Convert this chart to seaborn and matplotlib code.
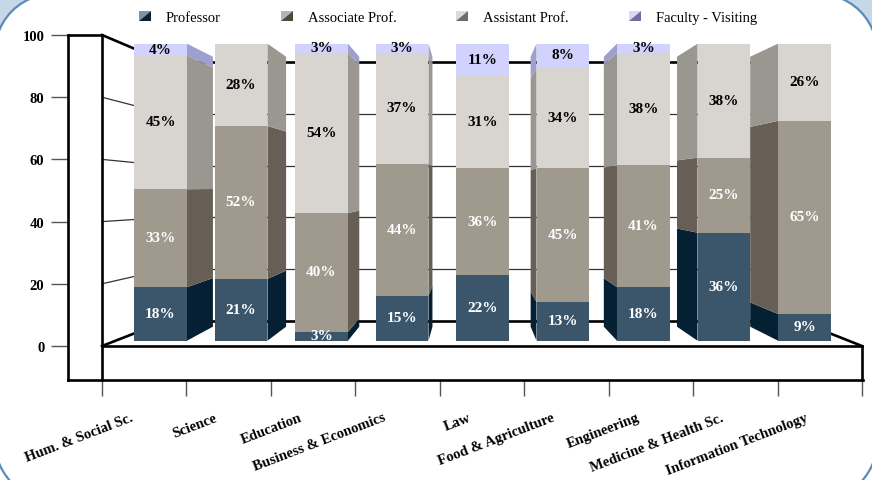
"""Faculty rank mix per college, drawn as a 3D-look 100% stacked bar chart."""

import matplotlib

matplotlib.use("Agg")

import matplotlib.pyplot as plt
import numpy as np
import seaborn as sns
from matplotlib.legend_handler import HandlerBase
from matplotlib.patches import FancyBboxPatch, Polygon, Rectangle

colleges = [
    "Hum. & Social Sc.",
    "Science",
    "Education",
    "Business & Economics",
    "Law",
    "Food & Agriculture",
    "Engineering",
    "Medicine & Health Sc.",
    "Information Technology",
]
ranks = ["Professor", "Associate Prof.", "Assistant Prof.", "Faculty - Visiting"]
professor = [18, 21, 3, 15, 22, 13, 18, 36, 9]
associate = [33, 52, 40, 44, 36, 45, 41, 25, 65]
assistant = [45, 28, 54, 37, 31, 34, 38, 38, 26]
visiting = [4, 0, 3, 3, 11, 8, 3, 0, 0]
y_ticks = [0, 20, 40, 60, 80, 100]

front_colors = ["#3b566b", "#a0998d", "#d8d5d0", "#d2d2ff"]
side_colors = ["#062033", "#675f55", "#9a9790", "#9f9fcf"]
swatch_light = ["#7f93a3", "#b9b4ab", "#dddbd7", "#d8d8f8"]
swatch_dark = ["#0a2233", "#4f483f", "#6f6c68", "#6f6f98"]
label_colors = ["white", "white", "black", "black"]

W, H = 872, 481
FONT = "Liberation Serif"


class SplitSwatch(HandlerBase):
    """Legend key split along its diagonal, light above and dark below."""

    def __init__(self, light, dark):
        super().__init__()
        self.light = light
        self.dark = dark

    def create_artists(self, legend, orig_handle, xdescent, ydescent, width, height, fontsize, trans):
        x0, y0 = -xdescent, -ydescent
        x1, y1 = x0 + width, y0 + height
        upper = Polygon([(x0, y0), (x0, y1), (x1, y1)], facecolor=self.light, edgecolor="none", transform=trans)
        lower = Polygon([(x0, y0), (x1, y0), (x1, y1)], facecolor=self.dark, edgecolor="none", transform=trans)
        return [upper, lower]


def to_back(x, y, center_x, center_y, depth):
    """Push a front-plane point back towards the vanishing point."""
    return center_x + depth * (x - center_x), center_y + depth * (y - center_y)


sns.set_theme(style="white")
plt.rcParams["font.family"] = [FONT, "DejaVu Serif"]

fig = plt.figure(figsize=(W / 100, H / 100), dpi=100, facecolor="white")

# rounded white card; only the top corners show blue outside it
card_ax = fig.add_axes([0, 0, 1, 1], zorder=0)
card_ax.set_xlim(0, W)
card_ax.set_ylim(H, 0)
card_ax.axis("off")
card_ax.add_patch(Rectangle((0, 0), W, 100, facecolor="#c6d7e7", edgecolor="none"))
card_ax.add_patch(
    FancyBboxPatch(
        (72, 72),
        W + 16 - 160,
        H + 23 - 160 + 8,
        boxstyle="round,pad=80",
        facecolor="white",
        edgecolor="#5a8ab8",
        linewidth=1.6,
    )
)

# the frame: its left and bottom spines are the outer box of the chart
frame_ax = fig.add_axes([68 / W, 1 - 381 / H, (863 - 68) / W, (381 - 36) / H], zorder=1)
frame_ax.patch.set_alpha(0)
frame_ax.set_xlim(-34 / 84.4, 9 + 1 / 84.4)
frame_ax.set_ylim(-34 / 3.11, 100)
for side in ["top", "right"]:
    frame_ax.spines[side].set_visible(False)
for side in ["left", "bottom"]:
    frame_ax.spines[side].set_linewidth(1.9)
    frame_ax.spines[side].set_color("black")

frame_ax.set_yticks(y_ticks)
frame_ax.tick_params(axis="y", length=12, width=1, color="#555555", pad=5, left=True)
frame_ax.set_yticklabels([str(t) for t in y_ticks], fontsize=10.5, fontweight="bold", color="black")
frame_ax.set_xticks(range(len(colleges) + 1))
frame_ax.set_xticklabels([])
frame_ax.tick_params(axis="x", which="major", length=11.5, width=1, color="#555555", bottom=True)
frame_ax.set_xticks(np.arange(len(colleges)) + 0.33, minor=True)
frame_ax.set_xticklabels(colleges, minor=True, rotation=21, ha="right", rotation_mode="anchor", fontsize=10.5, fontweight="bold", color="black")
frame_ax.tick_params(axis="x", which="minor", length=0, pad=22)

# walls of the chart box
wall_x, wall_y, wall_depth = 4.53, 48.0, 0.8327
n_slots = len(colleges)
back_left, back_top = to_back(0, 100, wall_x, wall_y, wall_depth)
back_right, back_floor = to_back(n_slots, 0, wall_x, wall_y, wall_depth)
heavy = dict(color="black", linewidth=1.9, solid_capstyle="projecting", clip_on=False)
light = dict(color="#333333", linewidth=0.9)
for tick in y_ticks[1:-1]:
    _, back_tick = to_back(0, tick, wall_x, wall_y, wall_depth)
    frame_ax.plot([0, back_left], [tick, back_tick], **light)
    frame_ax.plot([back_left, back_right], [back_tick, back_tick], **light)
x_min = frame_ax.get_xlim()[0]
frame_ax.plot([x_min, 0], [100, 100], **heavy)
frame_ax.plot([0, 0], [frame_ax.get_ylim()[0], 100], **heavy)
frame_ax.plot([0, n_slots], [0, 0], **heavy)
frame_ax.plot([n_slots, n_slots], [frame_ax.get_ylim()[0], 0], **heavy)
frame_ax.plot([0, back_left], [100, back_top], **heavy)
frame_ax.plot([0, back_left], [0, back_floor], **heavy)
frame_ax.plot([n_slots, back_right], [0, back_floor], **heavy)
frame_ax.plot([back_left, back_right], [back_top, back_top], **heavy)
frame_ax.plot([back_left, back_right], [back_floor, back_floor], **heavy)

# bars sit on their own plane, in front of the walls
bar_ax = fig.add_axes([0, 0, 1, 1], zorder=2)
bar_ax.patch.set_alpha(0)

series = np.array([professor, associate, assistant, visiting], dtype=float)
shares = series / series.sum(axis=0) * 100
bottoms = np.vstack([np.zeros(len(colleges)), np.cumsum(shares, axis=0)[:-1]])
bar_width = 0.658

for layer, color in enumerate(front_colors):
    sns.barplot(
        x=colleges,
        y=shares[layer],
        bottom=bottoms[layer],
        color=color,
        saturation=1,
        width=bar_width,
        errorbar=None,
        linewidth=0,
        order=colleges,
        ax=bar_ax,
        zorder=3,
    )

bar_ax.set_xlim(-160.5 / 80.5, (W - 160.5) / 80.5)
bar_ax.set_ylim((341.7 - H) / 2.97, 341.7 / 2.97)
bar_ax.axis("off")

# side faces, running from the front edge back to the vanishing point
bar_x, bar_y, bar_depth = 3.87, 51.85, 0.909
for slot in range(len(colleges)):
    left_edge = slot - bar_width / 2
    right_edge = slot + bar_width / 2
    if right_edge <= bar_x:
        edge = right_edge
    elif left_edge >= bar_x:
        edge = left_edge
    else:
        continue
    for layer in range(len(ranks)):
        if series[layer, slot] == 0:
            continue
        low = bottoms[layer, slot]
        high = low + shares[layer, slot]
        back_x, back_low = to_back(edge, low, bar_x, bar_y, bar_depth)
        _, back_high = to_back(edge, high, bar_x, bar_y, bar_depth)
        bar_ax.fill(
            [edge, back_x, back_x, edge],
            [low, back_low, back_high, high],
            color=side_colors[layer],
            linewidth=0,
            zorder=2,
        )

# value labels centred on each front face
for layer in range(len(ranks)):
    for slot in range(len(colleges)):
        if series[layer, slot] == 0:
            continue
        bar_ax.text(
            slot,
            bottoms[layer, slot] + shares[layer, slot] / 2 + 0.2,
            f"{series[layer, slot]:.0f}%",
            ha="center",
            va="center",
            fontsize=11,
            fontweight="bold",
            color=label_colors[layer],
            zorder=5,
        )

handles = [Polygon([(0, 0)], label=rank) for rank in ranks]
bar_ax.legend(
    handles=handles,
    labels=ranks,
    handler_map={h: SplitSwatch(swatch_light[i], swatch_dark[i]) for i, h in enumerate(handles)},
    loc="upper left",
    bbox_to_anchor=(139 / W, 1 - 11.5 / H),
    bbox_transform=fig.transFigure,
    ncols=4,
    frameon=False,
    fontsize=10.5,
    handlelength=0.82,
    handleheight=0.72,
    handletextpad=1.03,
    columnspacing=4.1,
    borderpad=0,
    borderaxespad=0,
    labelcolor="black",
)

fig.savefig("out.png", dpi=100, facecolor=fig.get_facecolor())
plt.close(fig)
